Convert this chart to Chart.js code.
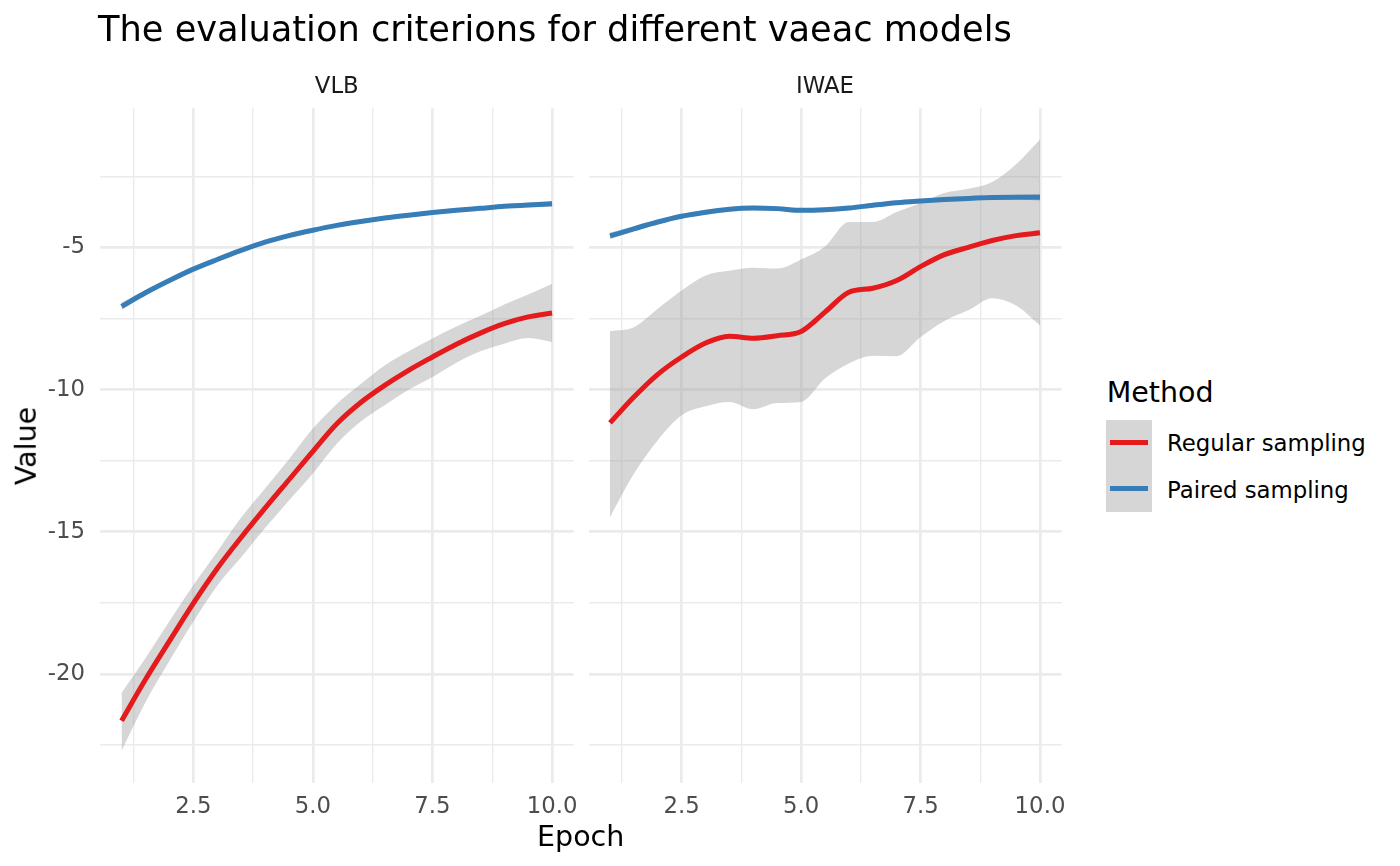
<!DOCTYPE html>
<html><head><meta charset="utf-8">
<script src="https://cdn.jsdelivr.net/npm/chart.js@4.4.1/dist/chart.umd.min.js"></script>
<style>
html,body{margin:0;padding:0;background:#fff;}
body{width:1400px;height:866px;position:relative;overflow:hidden;font-family:"DejaVu Sans",sans-serif;}
canvas{position:absolute;top:0;}
.t{position:absolute;white-space:nowrap;line-height:1;z-index:5;}
</style></head><body>
<canvas id="c1" width="580" height="866" style="left:0px"></canvas>
<canvas id="c2" width="490" height="866" style="left:580px"></canvas>

<div class="t" style="left:98px;top:10.5px;font-size:35.2px;color:#000;">The evaluation criterions for different vaeac models</div>
<div class="t" style="left:336.8px;top:74px;font-size:22.8px;color:#1A1A1A;transform:translateX(-50%);">VLB</div>
<div class="t" style="left:825px;top:74px;font-size:22.8px;color:#1A1A1A;transform:translateX(-50%);">IWAE</div>
<div class="t" style="left:580.7px;top:822.6px;font-size:28.5px;color:#000;transform:translateX(-50%);">Epoch</div>
<div class="t" style="left:26.6px;top:446px;font-size:28.5px;color:#000;transform:translate(-50%,-50%) rotate(-90deg);">Value</div>

<div class="t" style="left:1106.7px;top:379.2px;font-size:28.5px;color:#000;">Method</div>
<div style="position:absolute;left:1106px;top:420px;width:46px;height:92px;background:#D6D6D6;"></div>
<div style="position:absolute;left:1110px;top:440.2px;width:37.5px;height:5px;background:#E41A1C;"></div>
<div style="position:absolute;left:1110px;top:486.2px;width:37.5px;height:5px;background:#377EB8;"></div>
<div class="t" style="left:1167px;top:432.4px;font-size:22.8px;color:#000;">Regular sampling</div>
<div class="t" style="left:1167px;top:479px;font-size:22.8px;color:#000;">Paired sampling</div>

<script>
const epochs = [1,1.5,2,2.5,3,3.5,4,4.5,5,5.5,6,6.5,7,7.5,8,8.5,9,9.5,10];

const vlbRegular      = [-21.65,-20.2,-18.85,-17.52,-16.29,-15.2,-14.17,-13.17,-12.17,-11.2,-10.45,-9.85,-9.32,-8.85,-8.4,-8.01,-7.68,-7.44,-7.30];
const vlbRegularUpper = [-20.67,-19.45,-18.15,-16.88,-15.7,-14.5,-13.48,-12.45,-11.37,-10.5,-9.8,-9.15,-8.65,-8.2,-7.78,-7.4,-7.0,-6.65,-6.27];
const vlbRegularLower = [-22.71,-21.0,-19.55,-18.17,-16.9,-15.9,-14.87,-13.9,-12.95,-11.9,-11.12,-10.55,-10.0,-9.55,-9.05,-8.65,-8.38,-8.18,-8.32];

const vlbPaired       = [-7.07,-6.59,-6.16,-5.76,-5.42,-5.10,-4.81,-4.58,-4.39,-4.22,-4.08,-3.96,-3.86,-3.77,-3.69,-3.62,-3.55,-3.50,-3.46];
const vlbPairedUpper  = [-6.93,-6.49,-6.08,-5.69,-5.35,-5.03,-4.74,-4.51,-4.32,-4.15,-4.01,-3.89,-3.79,-3.70,-3.62,-3.55,-3.48,-3.42,-3.36];
const vlbPairedLower  = [-7.21,-6.69,-6.24,-5.83,-5.49,-5.17,-4.88,-4.65,-4.46,-4.29,-4.15,-4.03,-3.93,-3.84,-3.76,-3.69,-3.62,-3.58,-3.56];

const iwaeRegular      = [-11.17,-10.26,-9.46,-8.85,-8.36,-8.12,-8.19,-8.10,-7.95,-7.27,-6.57,-6.43,-6.16,-5.67,-5.25,-4.99,-4.75,-4.58,-4.48];
const iwaeRegularUpper = [-7.94,-7.80,-7.15,-6.51,-5.98,-5.82,-5.71,-5.74,-5.42,-4.96,-4.10,-4.10,-3.75,-3.43,-3.08,-2.93,-2.69,-2.07,-1.20];
const iwaeRegularLower = [-14.48,-12.96,-11.78,-10.90,-10.58,-10.43,-10.69,-10.47,-10.43,-9.61,-9.08,-8.81,-8.82,-8.15,-7.58,-7.21,-6.78,-7.04,-7.74];

const iwaePaired       = [-4.59,-4.34,-4.10,-3.90,-3.76,-3.65,-3.61,-3.63,-3.69,-3.67,-3.61,-3.51,-3.42,-3.36,-3.31,-3.27,-3.24,-3.23,-3.23];
const iwaePairedUpper  = [-4.47,-4.25,-4.02,-3.82,-3.68,-3.57,-3.53,-3.55,-3.61,-3.59,-3.53,-3.43,-3.34,-3.28,-3.23,-3.19,-3.16,-3.14,-3.11];
const iwaePairedLower  = [-4.71,-4.43,-4.18,-3.98,-3.84,-3.73,-3.69,-3.71,-3.77,-3.75,-3.69,-3.59,-3.50,-3.44,-3.39,-3.35,-3.32,-3.32,-3.35];

const xTicks = [1.25,2.5,3.75,5,6.25,7.5,8.75,10];
const yTicks = [-22.5,-20,-17.5,-15,-12.5,-10,-7.5,-5,-2.5];

const RED = '#E41A1C', BLUE = '#377EB8', RIBBON = 'rgba(153,153,153,0.4)', GRID = '#EBEBEB';
const FONT = '"DejaVu Sans", sans-serif';

function pts(ys){ return epochs.map((x,i)=>({x:x,y:ys[i]})); }

function lineDs(ys,color){
  return {data:pts(ys),borderColor:color,borderWidth:5,pointRadius:0,fill:false,
    cubicInterpolationMode:'monotone',borderCapStyle:'butt',order:0};
}
function ribbonUpper(ys){
  return {data:pts(ys),borderWidth:0,borderColor:'rgba(0,0,0,0)',backgroundColor:RIBBON,pointRadius:0,
    fill:'+1',cubicInterpolationMode:'monotone',order:1};
}
function ribbonLower(ys){
  return {data:pts(ys),borderWidth:0,borderColor:'rgba(0,0,0,0)',pointRadius:0,fill:false,
    cubicInterpolationMode:'monotone',order:1};
}

function makeChart(id, reg, regU, regL, pai, paiU, paiL, showY, yWidth, padRight){
  return new Chart(document.getElementById(id), {
    type:'line',
    data:{datasets:[
      lineDs(reg,RED), lineDs(pai,BLUE),
      ribbonUpper(regU), ribbonLower(regL),
      ribbonUpper(paiU), ribbonLower(paiL)
    ]},
    options:{
      responsive:false, animation:false, devicePixelRatio:1,
      layout:{padding:{left:0,right:padRight,top:108.3,bottom:0}},
      plugins:{legend:{display:false},tooltip:{enabled:false},title:{display:false}},
      scales:{
        x:{type:'linear',min:0.55,max:10.45,
          afterBuildTicks:(s)=>{s.ticks = xTicks.map(v=>({value:v}));},
          afterFit:(s)=>{s.height = 82.7; s.paddingLeft = 0; s.paddingRight = 0;},
          border:{display:false},
          grid:{color:GRID,drawTicks:false,
            lineWidth:(c)=> (c.tick && Math.abs(c.tick.value % 2.5) < 1e-9) ? 2.7 : 1.4},
          ticks:{autoSkip:false,maxRotation:0,minRotation:0,padding:10,color:'#4D4D4D',
            font:{family:FONT,size:22.8},
            callback:(v)=> (Math.abs(v % 2.5) < 1e-9) ? v.toFixed(1) : ''}
        },
        y:{type:'linear',min:-23.85,max:-0.1,
          afterBuildTicks:(s)=>{s.ticks = yTicks.map(v=>({value:v}));},
          afterFit:(s)=>{s.width = yWidth; s.paddingTop = 0; s.paddingBottom = 0;},
          border:{display:false},
          grid:{color:GRID,drawTicks:false,
            lineWidth:(c)=> (c.tick && Math.abs(c.tick.value % 5) < 1e-9) ? 2.7 : 1.4},
          ticks:{display:showY,padding:15,color:'#4D4D4D',
            font:{family:FONT,size:22.8},
            callback:(v)=> (Math.abs(v % 5) < 1e-9) ? String(v) : ''}
        }
      }
    }
  });
}

makeChart('c1', vlbRegular, vlbRegularUpper, vlbRegularLower, vlbPaired, vlbPairedUpper, vlbPairedLower, true, 100, 6.4);
makeChart('c2', iwaeRegular, iwaeRegularUpper, iwaeRegularLower, iwaePaired, iwaePairedUpper, iwaePairedLower, false, 8.5, 8.5);
</script>
</body></html>
